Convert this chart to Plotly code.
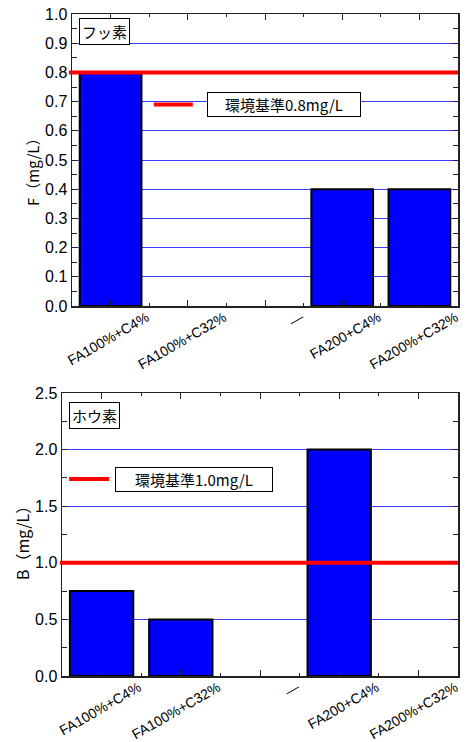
import plotly.graph_objects as go

categories = ["FA100%+C4%", "FA100%+C32%", "—", "FA200+C4%", "FA200%+C32%"]
f_values = [0.8, None, None, 0.4, 0.4]
b_values = [0.75, 0.5, None, 2.0, None]
f_standard = 0.8
b_standard = 1.0
f_title = "フッ素"
b_title = "ホウ素"
f_legend = "環境基準0.8mg/L"
b_legend = "環境基準1.0mg/L"
f_axis_title = "F（mg/L）"
b_axis_title = "B（mg/L）"

xpos = list(range(len(categories)))
label_shift = 0.47

FONT = "Liberation Sans, Arial, Noto Sans CJK JP"
JFONT = "Noto Sans CJK JP"
AXC = "#222222"
GRID = "#3a3aff"

fig = go.Figure()
fig.add_trace(go.Bar(x=xpos, y=f_values, width=0.8, marker=dict(color="#0000ff", line=dict(color="black", width=2)),
                     xaxis="x", yaxis="y", showlegend=False, hoverinfo="skip"))
fig.add_trace(go.Bar(x=xpos, y=b_values, width=0.8, marker=dict(color="#0000ff", line=dict(color="black", width=2)),
                     xaxis="x2", yaxis="y2", showlegend=False, hoverinfo="skip"))

def xaxis_base(domain, anchor):
    return dict(domain=domain, anchor=anchor, range=[-0.5, len(categories) - 0.5], tickmode="linear", tick0=0, dtick=1,
                ticks="inside", ticklen=6, tickwidth=1, tickcolor=AXC, showticklabels=False, automargin=False,
                minor=dict(ticks="inside", ticklen=3, dtick=0.5, tick0=0, tickcolor=AXC),
                showline=True, linecolor=AXC, linewidth=1.5, mirror="allticks", showgrid=False, zeroline=False)

def label_axis(over, anchor):
    return dict(overlaying=over, anchor=anchor, side="bottom", range=[-0.5, len(categories) - 0.5], automargin=False,
                tickmode="array", tickvals=[p + label_shift for p in xpos], ticktext=categories, tickangle=-30,
                ticks="", showline=False, showgrid=False, zeroline=False,
                tickfont=dict(family=FONT, size=14, color="black"))

def yaxis_base(domain, anchor, rng, dt, mdt):
    return dict(domain=domain, anchor=anchor, range=rng, tickmode="linear", tick0=0, dtick=dt, tickformat=".1f",
                ticks="inside", ticklen=5, tickcolor=AXC, automargin=False,
                minor=dict(ticks="inside", ticklen=3, dtick=mdt, tick0=0, tickcolor=AXC),
                showline=True, linecolor=AXC, linewidth=1.5, mirror="allticks", showgrid=True, gridcolor=GRID, gridwidth=1,
                zeroline=False, tickfont=dict(family=FONT, size=16, color="black"))

W, H = 469, 742
top_x = [72 / W, 458 / W]
top_y = [(H - 306) / H, (H - 14) / H]
bot_x = [62 / W, 458 / W]
bot_y = [(H - 676) / H, (H - 393) / H]

fig.update_layout(
    width=W, height=H, margin=dict(l=0, r=0, t=0, b=0, autoexpand=False), plot_bgcolor="white", paper_bgcolor="white",
    barmode="overlay", showlegend=False,
    xaxis=xaxis_base(top_x, "y"),
    yaxis=yaxis_base(top_y, "x", [0, 1.0], 0.1, 0.05),
    xaxis2=xaxis_base(bot_x, "y2"),
    yaxis2=yaxis_base(bot_y, "x2", [0, 2.5], 0.5, 0.25),
    xaxis3=label_axis("x", "y"),
    xaxis4=label_axis("x2", "y2"),
)
# dummy traces so label axes render
fig.add_trace(go.Scatter(x=[None], y=[None], xaxis="x3", yaxis="y", showlegend=False))
fig.add_trace(go.Scatter(x=[None], y=[None], xaxis="x4", yaxis="y2", showlegend=False))

# y axis titles
fig.add_annotation(xref="paper", yref="paper", x=32 / W, y=1 - 169 / H, xanchor="center", yanchor="middle",
                   text=f_axis_title, textangle=-90,
                   showarrow=False, font=dict(family=JFONT, size=15, color="black"))
fig.add_annotation(xref="paper", yref="paper", x=22 / W, y=1 - 539 / H, xanchor="center", yanchor="middle",
                   text=b_axis_title, textangle=-90,
                   showarrow=False, font=dict(family=JFONT, size=16, color="black"))

# standard lines
fig.add_shape(type="line", xref="x domain", yref="y", x0=-0.008, x1=1, y0=f_standard, y1=f_standard,
              line=dict(color="#ff0000", width=4), layer="above")
fig.add_shape(type="line", xref="x2 domain", yref="y2", x0=-0.005, x1=1, y0=b_standard, y1=b_standard,
              line=dict(color="#ff0000", width=4), layer="above")

# legend-like markers
fig.add_shape(type="line", xref="x domain", yref="y", x0=0.212, x1=0.313, y0=0.69, y1=0.69,
              line=dict(color="#ff0000", width=4), layer="above")
fig.add_annotation(xref="x domain", yref="y", x=0.35, y=0.69, xanchor="left", yanchor="middle", text=f_legend,
                   showarrow=False, font=dict(family=JFONT, size=15, color="black"), bgcolor="white",
                   bordercolor="black", borderwidth=1, borderpad=1, width=150, align="center")
fig.add_shape(type="line", xref="x2 domain", yref="y2", x0=0.018, x1=0.119, y0=1.74, y1=1.74,
              line=dict(color="#ff0000", width=4), layer="above")
fig.add_annotation(xref="x2 domain", yref="y2", x=0.134, y=1.74, xanchor="left", yanchor="middle", text=b_legend,
                   showarrow=False, font=dict(family=JFONT, size=15, color="black"), bgcolor="white",
                   bordercolor="black", borderwidth=1, borderpad=1, width=154, align="center")

# panel titles
fig.add_annotation(xref="x domain", yref="y domain", x=0.018, y=0.986, xanchor="left", yanchor="top", text=f_title,
                   showarrow=False, font=dict(family=JFONT, size=15, color="black"), bgcolor="white",
                   bordercolor="black", borderwidth=1, borderpad=2)
fig.add_annotation(xref="x2 domain", yref="y2 domain", x=0.018, y=0.968, xanchor="left", yanchor="top", text=b_title,
                   showarrow=False, font=dict(family=JFONT, size=15, color="black"), bgcolor="white",
                   bordercolor="black", borderwidth=1, borderpad=2)

fig.write_html("out.html", config={"displayModeBar": False, "staticPlot": True},
               post_script="document.body.style.margin='0';document.body.style.overflow='hidden';")
